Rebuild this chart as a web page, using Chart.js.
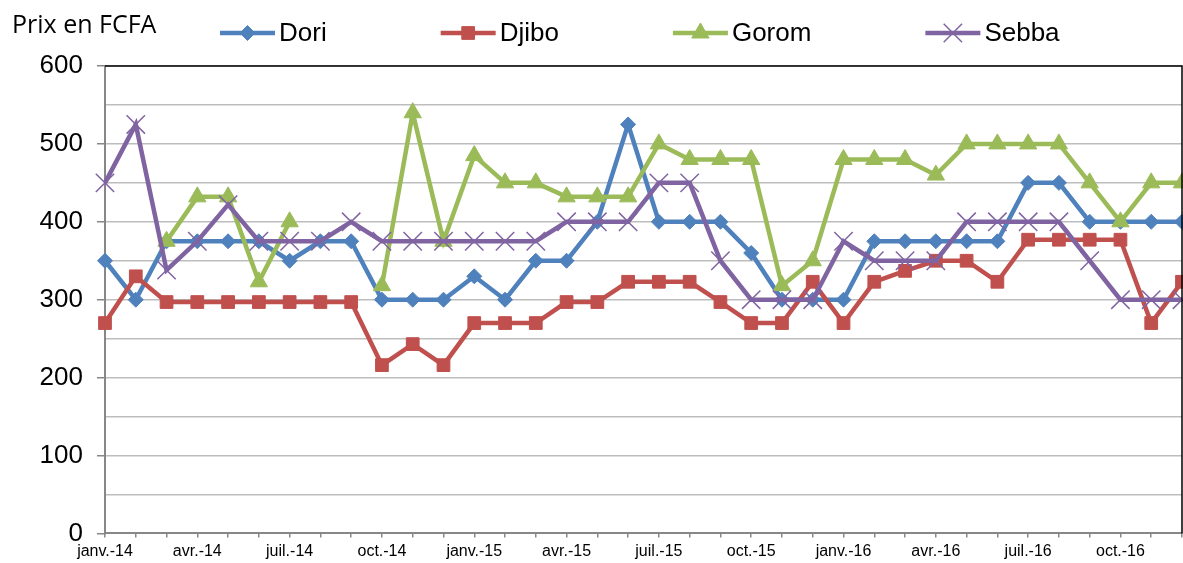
<!DOCTYPE html>
<html>
<head>
<meta charset="utf-8">
<script src="https://cdn.jsdelivr.net/npm/chart.js@4.4.1/dist/chart.umd.min.js"></script>
<style>
  html, body { margin: 0; padding: 0; background: #fff; overflow: hidden; }
  canvas { display: block; }
</style>
</head>
<body>
<canvas id="chart" width="1183" height="563"></canvas>
<script>
// months janv.-14 .. déc.-16
const months = [
  'janv.-14','févr.-14','mars-14','avr.-14','mai-14','juin-14','juil.-14','août-14','sept.-14','oct.-14','nov.-14','déc.-14',
  'janv.-15','févr.-15','mars-15','avr.-15','mai-15','juin-15','juil.-15','août-15','sept.-15','oct.-15','nov.-15','déc.-15',
  'janv.-16','févr.-16','mars-16','avr.-16','mai-16','juin-16','juil.-16','août-16','sept.-16','oct.-16','nov.-16','déc.-16'
];

const dori  = [350,300,375,375,375,375,350,375,375,300,300,300, 330,300,350,350,400,525,400,400,400,360,300,300, 300,375,375,375,375,375,450,450,400,400,400,400];
const djibo = [270,330,297,297,297,297,297,297,297,216,243,216, 270,270,270,297,297,323,323,323,297,270,270,323, 270,323,337,350,350,323,377,377,377,377,270,323];
const gorom = [null,null,375,432,432,323,400,null,null,318,540,375, 485,450,450,432,432,432,500,480,480,480,318,350, 480,480,480,460,500,500,500,500,450,400,450,450];
const sebba = [450,525,338,375,422,375,375,375,400,375,375,375, 375,375,375,400,400,400,450,450,350,300,300,300, 375,350,350,350,400,400,400,400,350,300,300,300];

const yTitle = 'Prix en FCFA';

function series(label, data, color, style, radius, bw, order) {
  return {
    label, data, order,
    borderColor: color, backgroundColor: color,
    borderWidth: 4.5,
    pointStyle: style, pointRadius: radius,
    pointBackgroundColor: color, pointBorderColor: color, pointBorderWidth: bw,
    tension: 0, spanGaps: false, clip: false
  };
}

// title + Excel-like legend (line with marker) and the top/right frame
const extras = {
  id: 'extras',
  afterDraw(chart) {
    const { ctx, chartArea: a } = chart;
    ctx.save();
    ctx.strokeStyle = '#000';
    ctx.lineWidth = 1.5;
    ctx.beginPath();
    ctx.moveTo(a.left, a.top); ctx.lineTo(a.right, a.top); ctx.lineTo(a.right, a.bottom);
    ctx.stroke();

    ctx.fillStyle = '#000';
    ctx.textBaseline = 'middle';
    ctx.font = '25px "Open Sans"';
    ctx.fillText(yTitle, 12, 26);

    ctx.font = '26px "Liberation Sans", Arial';
    let x = 220;
    const y = 33;
    chart.data.datasets.forEach(ds => {
      ctx.strokeStyle = ds.borderColor;
      ctx.lineWidth = ds.borderWidth;
      ctx.beginPath(); ctx.moveTo(x, y); ctx.lineTo(x + 55, y); ctx.stroke();
      ctx.fillStyle = ds.pointBackgroundColor;
      ctx.strokeStyle = ds.pointBorderColor;
      ctx.lineWidth = ds.pointBorderWidth;
      Chart.helpers.drawPoint(ctx, { pointStyle: ds.pointStyle, radius: ds.pointRadius, rotation: 0, borderWidth: ds.pointBorderWidth }, x + 27.5, y);
      ctx.fillStyle = '#000';
      ctx.fillText(ds.label, x + 59, y + 1);
      x += 59 + ctx.measureText(ds.label).width + 114;
    });
    ctx.restore();
  }
};

new Chart(document.getElementById('chart'), {
  type: 'line',
  data: {
    labels: months,
    datasets: [
      series('Dori', dori, '#4F81BD', 'rectRot', 7.5, 1, 4),
      series('Djibo', djibo, '#C0504D', 'rect', 9, 1, 3),
      series('Gorom', gorom, '#9BBB59', 'triangle', 10, 1, 2),
      series('Sebba', sebba, '#8064A2', 'crossRot', 13, 1.5, 1)
    ]
  },
  options: {
    responsive: false,
    animation: false,
    events: [],
    layout: { autoPadding: false, padding: { top: 66, right: 1, left: 0, bottom: 0 } },
    plugins: { legend: { display: false }, tooltip: { enabled: false } },
    scales: {
      x: {
        offset: false,
        afterFit: s => { s.height = 27; s.paddingLeft = 0; s.paddingRight = 0; },
        border: { color: '#878787', width: 2 },
        grid: { drawOnChartArea: false, drawTicks: true, tickLength: 4, tickColor: '#878787', lineWidth: 1.5 },
        ticks: {
          autoSkip: false, maxRotation: 0, padding: 5,
          color: '#000', font: { family: '"Liberation Sans", Arial', size: 16 },
          callback: (v, i) => (i % 3 === 0 ? months[i] : '')
        }
      },
      y: {
        min: 0, max: 600,
        afterFit: s => { s.width = 105; },
        border: { color: '#878787', width: 2 },
        grid: {
          color: c => (c.tick.value === 0 ? 'rgba(0,0,0,0)' : '#bdbdbd'),
          lineWidth: 1.5,
          tickLength: 8,
          tickColor: c => (c.tick.value % 100 === 0 ? '#878787' : 'rgba(0,0,0,0)')
        },
        ticks: {
          stepSize: 50, padding: 14,
          color: '#000', font: { family: '"Liberation Sans", Arial', size: 26 },
          callback: v => (v % 100 === 0 ? v : '')
        }
      }
    }
  },
  plugins: [extras]
});
</script>
</body>
</html>
